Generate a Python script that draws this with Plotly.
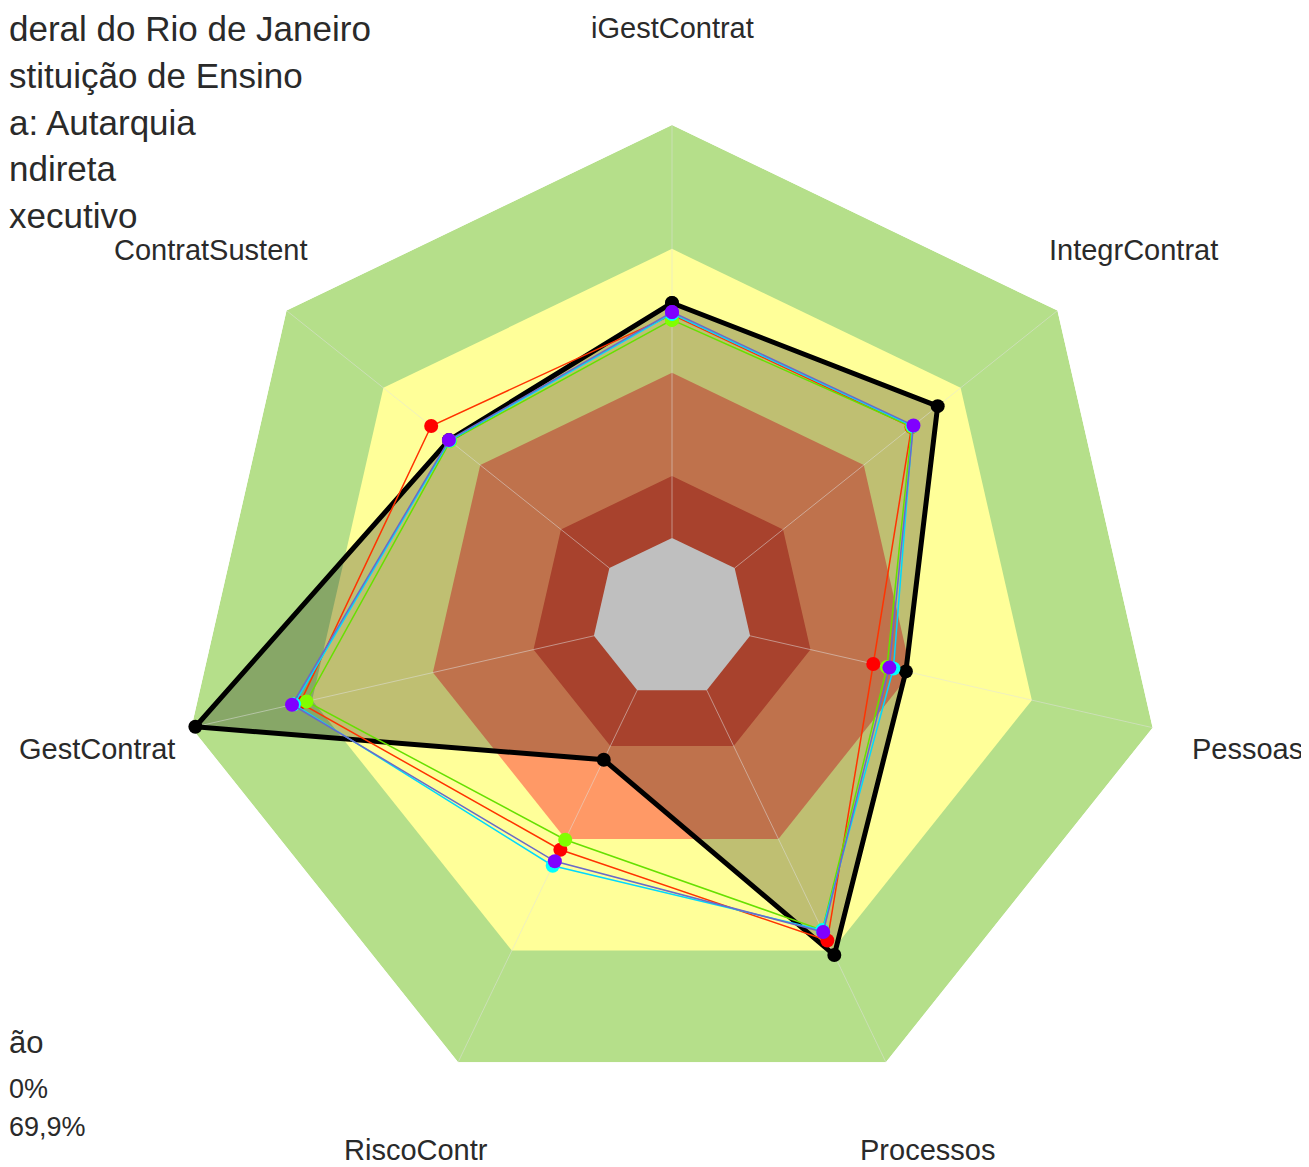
import math
import plotly.graph_objects as go

# ---------------- data ----------------
categories = ["iGestContrat", "IntegrContrat", "Pessoas", "Processos",
              "RiscoContr", "GestContrat", "ContratSustent"]

band_levels = [100, 70, 40, 15, 0]
band_colors = ["#B5DF8A", "#FFFF99", "#FF9966", "#E0583C", "#FFFFFF"]

serie_black = [56.9, 62.9, 38.7, 71.2, 18.7, 99.0, 49.7]
serie_red = [54.0, 54.8, 30.6, 67.3, 42.9, 73.0, 55.2]
serie_green = [52.8, 54.9, 34.0, 64.5, 40.2, 71.4, 49.3]
serie_cyan = [54.3, 55.2, 35.6, 64.5, 47.2, 74.5, 49.5]
serie_purple = [54.7, 55.4, 34.6, 65.0, 46.0, 75.0, 49.7]

header_lines = ["deral do Rio de Janeiro", "stituição de Ensino", "a: Autarquia",
                "ndireta", "xecutivo"]
legend_lines = ["ão", "0%", "69,9%"]

# ---------------- layout constants ----------------
OFF = 8                      # page body margin
W, H = 1309 - OFF, 1167 - OFF
CX, CY_TOP, RPX = 672 - OFF, 618 - OFF, 493
CY = H - CY_TOP
R_MIN = -19.4


def closed(v):
    return list(v) + [v[0]]


theta = closed(categories)

fig = go.Figure()

for lvl, col in zip(band_levels, band_colors):
    fig.add_trace(go.Scatterpolar(
        r=closed([lvl] * len(categories)), theta=theta, mode="lines",
        fill="toself", fillcolor=col, line=dict(width=0, color=col),
        hoverinfo="skip", showlegend=False))

fig.add_trace(go.Scatterpolar(
    r=closed(serie_black), theta=theta, mode="lines",
    fill="toself", fillcolor="rgba(0,0,0,0.25)",
    line=dict(color="rgba(0,0,0,0)", width=0), hoverinfo="skip",
    showlegend=False))

# spokes
sp_r, sp_t = [], []
for c in categories:
    sp_r += [0, 100, None]
    sp_t += [c, c, None]
fig.add_trace(go.Scatterpolar(
    r=sp_r, theta=sp_t, mode="lines", connectgaps=False,
    line=dict(color="rgba(225,225,225,0.5)", width=1),
    hoverinfo="skip", showlegend=False))

fig.add_trace(go.Scatterpolar(
    r=closed(serie_black), theta=theta, mode="lines+markers",
    line=dict(color="black", width=5), marker=dict(color="black", size=14),
    showlegend=False))

for vals, lc, mc in [(serie_red, "#FF3300", "#FF0000"),
                     (serie_green, "#66E000", "#80FF00"),
                     (serie_cyan, "#00D8FF", "#00FFFF"),
                     (serie_purple, "#6A6AC8", "#8000FF")]:
    fig.add_trace(go.Scatterpolar(
        r=closed(vals), theta=theta, mode="lines+markers",
        line=dict(color=lc, width=1.5), marker=dict(color=mc, size=14),
        showlegend=False))

annotations = []
n = len(categories)
RLAB = 590
for i, cat in enumerate(categories):
    ang = math.radians(90 - i * 360 / n)
    annotations.append(dict(
        x=(CX + RLAB * math.cos(ang)) / W, y=(CY + RLAB * math.sin(ang)) / H,
        xref="paper", yref="paper", text=cat, showarrow=False,
        xanchor="center", yanchor="middle",
        font=dict(family="Liberation Sans, Arial", size=29, color="#2a2a2a")))

for i, t in enumerate(header_lines):
    annotations.append(dict(
        x=0, y=(H - (21 + i * 46.5)) / H, xref="paper", yref="paper", text=t,
        showarrow=False, xanchor="left", yanchor="middle", borderpad=0,
        font=dict(family="Liberation Sans, Arial", size=35, color="#2a2a2a")))

for t, yy, sz in zip(legend_lines, [1034, 1081, 1119], [31, 27, 27]):
    annotations.append(dict(
        x=0, y=(H - yy) / H, xref="paper", yref="paper", text=t,
        showarrow=False, xanchor="left", yanchor="middle", borderpad=0,
        font=dict(family="Liberation Sans, Arial", size=sz, color="#2a2a2a")))

fig.update_layout(
    width=W, height=H, margin=dict(l=0, r=0, t=0, b=0),
    paper_bgcolor="white", plot_bgcolor="white",
    annotations=annotations,
    polar=dict(
        domain=dict(x=[(CX - RPX) / W, (CX + RPX) / W],
                    y=[(CY - RPX) / H, (CY + RPX) / H]),
        bgcolor="white", gridshape="linear",
        radialaxis=dict(range=[R_MIN, 100], showgrid=False, showline=False,
                        showticklabels=False, ticks=""),
        angularaxis=dict(direction="clockwise", rotation=90, showline=False,
                         showticklabels=False, ticks="", showgrid=False),
    ),
)

fig.write_html("out.html")
